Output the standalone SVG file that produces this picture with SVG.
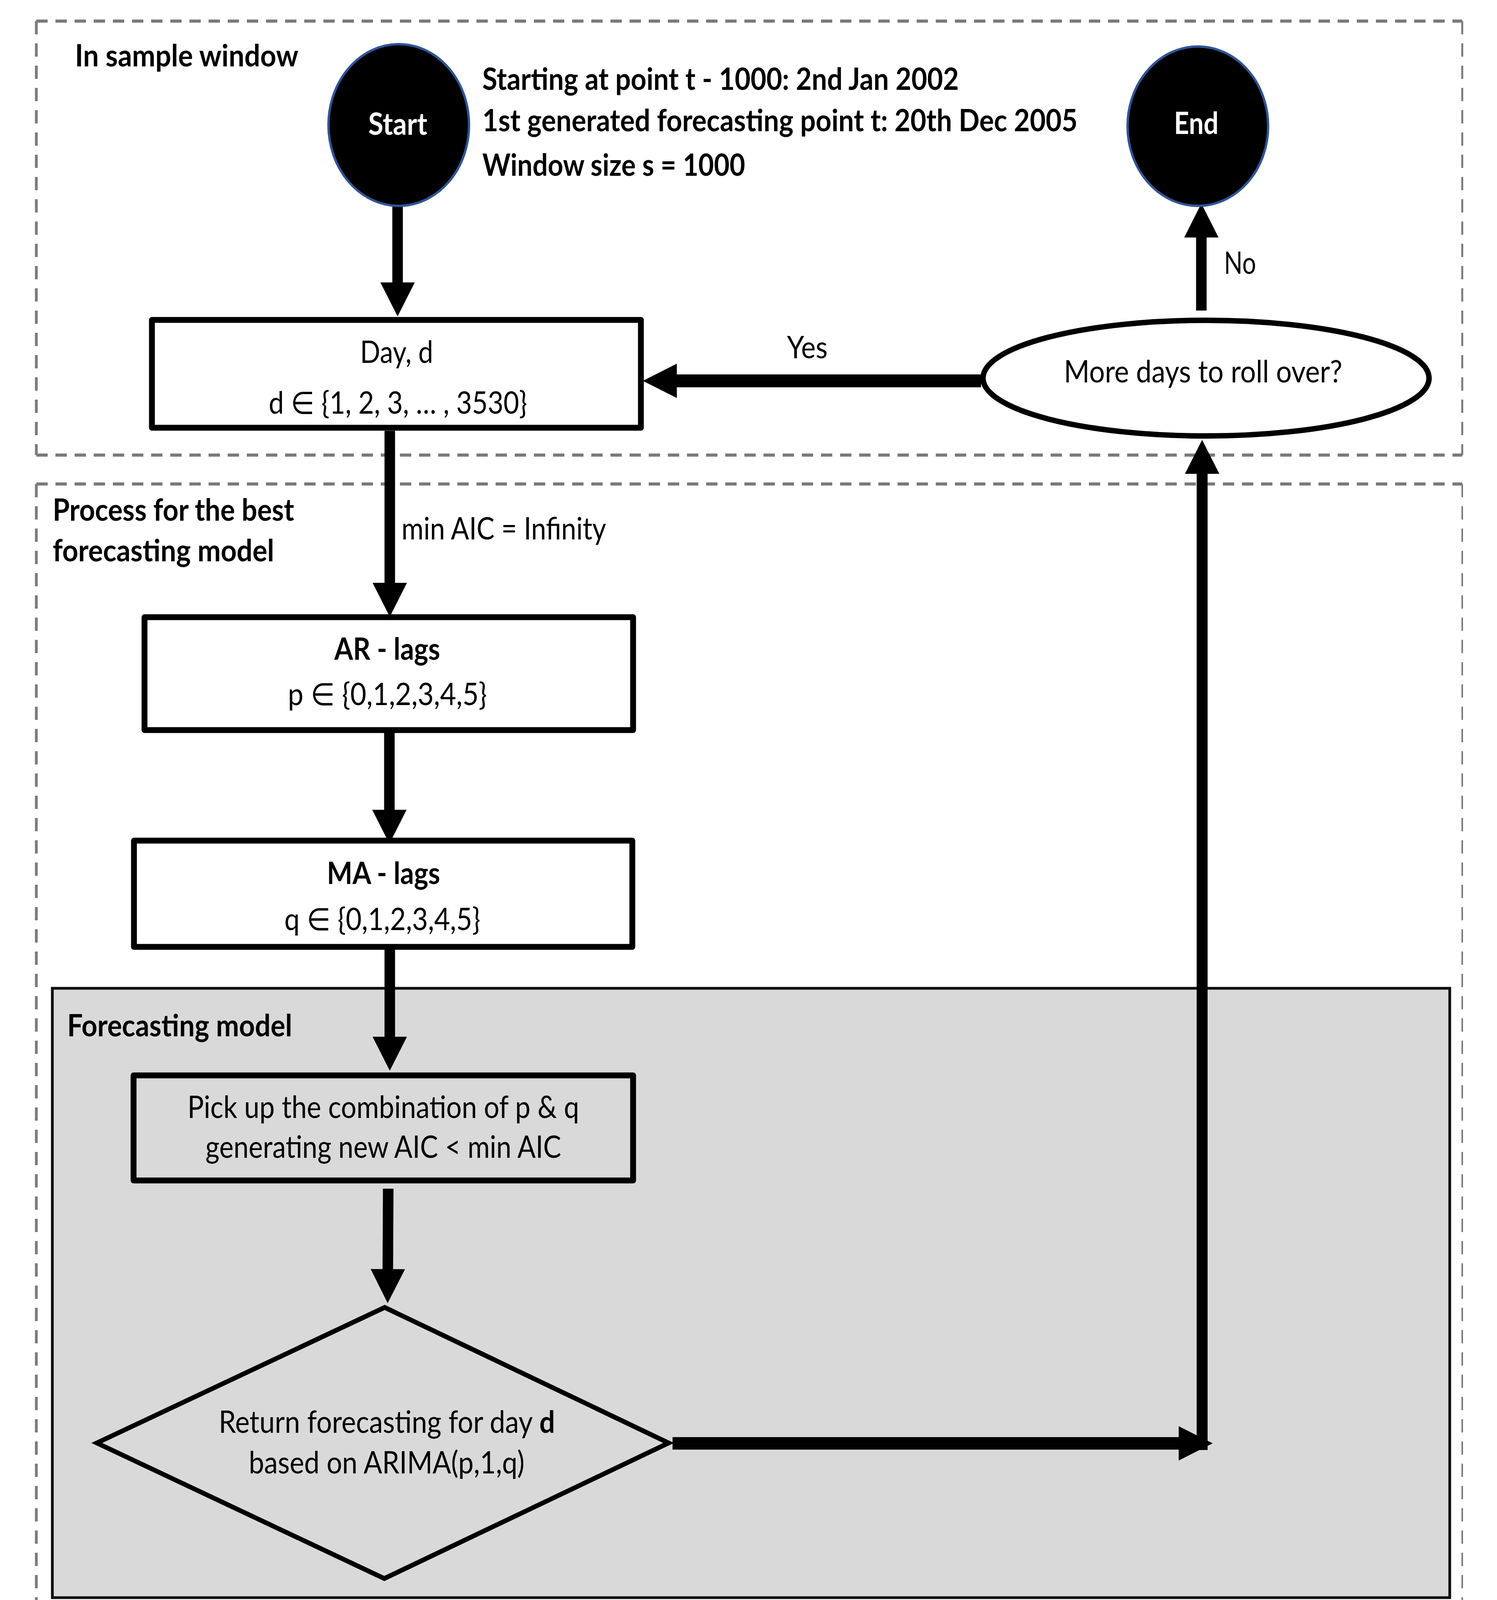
<svg xmlns="http://www.w3.org/2000/svg" width="3833" height="4222" viewBox="0 0 3833 4222">
<defs>
<style>
text{font-family:Lato,"Open Sans","DejaVu Sans",sans-serif;font-size:79px;fill:#000}
.b{font-weight:bold}
.w{fill:#fff;font-weight:bold}
.dh{fill:none;stroke:#7a7a7a;stroke-dasharray:29 20}
.dv{fill:none;stroke:#7a7a7a;stroke-dasharray:34 23}
.box{fill:#fff;stroke:#000;stroke-width:15;stroke-linejoin:round}
.term{fill:#000;stroke:#2f5597;stroke-width:6}
.con{fill:none;stroke:#000;stroke-linecap:butt}
</style>
<marker id="ah" markerUnits="userSpaceOnUse" markerWidth="100" markerHeight="100" viewBox="0 -50 100 100" refX="0" refY="0" orient="auto" overflow="visible">
<path d="M0,-44 L87,0 L0,44 z" fill="#000"/>
</marker>
</defs>
<rect width="3833" height="4222" fill="#fff"/>

<g id="frames">
<line class="dh" x1="93" y1="54" x2="3744" y2="54" stroke-width="8"/>
<line class="dh" x1="93" y1="1165" x2="3744" y2="1165" stroke-width="8"/>
<line class="dv" x1="93" y1="54" x2="93" y2="1165" stroke-width="7"/>
<line class="dv" x1="3744" y1="54" x2="3744" y2="1165" stroke-width="5"/>
<line class="dh" x1="93" y1="1239" x2="3744" y2="1239" stroke-width="8"/>
<line class="dh" x1="93" y1="4162" x2="3744" y2="4162" stroke-width="4"/>
<line class="dv" x1="93" y1="1239" x2="93" y2="4162" stroke-width="7"/>
<line class="dv" x1="3744" y1="1239" x2="3744" y2="4162" stroke-width="4"/>
<rect x="134" y="2530" width="3578" height="1560" fill="#d9d9d9" stroke="#0d0d0d" stroke-width="7"/>
<text class="b" x="192" y="170" textLength="572" lengthAdjust="spacingAndGlyphs">In sample window</text>
<text class="b" x="135" y="1333" textLength="618" lengthAdjust="spacingAndGlyphs">Process for the best</text>
<text class="b" x="135" y="1437" textLength="567" lengthAdjust="spacingAndGlyphs">forecasting model</text>
<text class="b" x="172" y="2653" textLength="576" lengthAdjust="spacingAndGlyphs">Forecasting model</text>
</g>

<g id="note">
<text class="b" x="1235" y="230" textLength="1220" lengthAdjust="spacingAndGlyphs">Starting at point t - 1000: 2nd Jan 2002</text>
<text class="b" x="1235" y="336" textLength="1524" lengthAdjust="spacingAndGlyphs">1st generated forecasting point t: 20th Dec 2005</text>
<text class="b" x="1235" y="450" textLength="673" lengthAdjust="spacingAndGlyphs">Window size s = 1000</text>
</g>

<g id="connectors">
<line class="con" x1="1018" y1="527" x2="1018" y2="723" stroke-width="27" marker-end="url(#ah)"/>
<line class="con" x1="998" y1="1103" x2="998" y2="1492" stroke-width="27" marker-end="url(#ah)"/>
<line class="con" x1="997" y1="1876" x2="997" y2="2073" stroke-width="27" marker-end="url(#ah)"/>
<line class="con" x1="998" y1="2431" x2="998" y2="2654" stroke-width="27" marker-end="url(#ah)"/>
<line class="con" x1="994" y1="3043" x2="993" y2="3249" stroke-width="27" marker-end="url(#ah)"/>
<line class="con" x1="1722" y1="3695" x2="3018" y2="3695" stroke-width="32" marker-end="url(#ah)"/>
<line class="con" x1="3078" y1="3712" x2="3078" y2="1213" stroke-width="28" marker-end="url(#ah)"/>
<line class="con" x1="3076" y1="795" x2="3076" y2="608" stroke-width="27" marker-end="url(#ah)"/>
<line class="con" x1="2512" y1="975" x2="1733" y2="975" stroke-width="33" marker-end="url(#ah)"/>
<text x="1028" y="1381" textLength="524" lengthAdjust="spacingAndGlyphs">min AIC = Infinity</text>
<text x="2015" y="917" textLength="104" lengthAdjust="spacingAndGlyphs">Yes</text>
<text x="3134" y="701" textLength="82" lengthAdjust="spacingAndGlyphs">No</text>
</g>

<g id="start">
<ellipse class="term" cx="1021" cy="320" rx="180" ry="207"/>
<text class="w" x="943" y="345" textLength="151" lengthAdjust="spacingAndGlyphs">Start</text>
</g>

<g id="end">
<ellipse class="term" cx="3067" cy="323" rx="180" ry="204"/>
<text class="w" x="3006" y="343" textLength="114" lengthAdjust="spacingAndGlyphs">End</text>
</g>

<g id="day">
<rect class="box" x="389" y="819" width="1252" height="276" stroke-width="16"/>
<text x="922" y="929" textLength="187" lengthAdjust="spacingAndGlyphs">Day, d</text>
<text x="688" y="1059" textLength="662" lengthAdjust="spacingAndGlyphs">d ∈ {1, 2, 3, … , 3530}</text>
</g>

<g id="more-days">
<ellipse cx="3088" cy="968" rx="571" ry="148" fill="#fff" stroke="#000" stroke-width="14"/>
<text x="2724" y="979" textLength="713" lengthAdjust="spacingAndGlyphs">More days to roll over?</text>
</g>

<g id="ar-lags">
<rect class="box" x="370" y="1580" width="1251" height="289" stroke-width="14"/>
<text class="b" x="856" y="1689" textLength="271" lengthAdjust="spacingAndGlyphs">AR - lags</text>
<text x="737" y="1805" textLength="510" lengthAdjust="spacingAndGlyphs">p ∈  {0,1,2,3,4,5}</text>
</g>

<g id="ma-lags">
<rect class="box" x="343" y="2152" width="1276" height="272" stroke-width="14"/>
<text class="b" x="837" y="2263" textLength="290" lengthAdjust="spacingAndGlyphs">MA - lags</text>
<text x="728" y="2381" textLength="502" lengthAdjust="spacingAndGlyphs">q ∈ {0,1,2,3,4,5}</text>
</g>

<g id="pick">
<rect class="box" x="342" y="2753" width="1279" height="269" stroke-width="14" style="fill:#d9d9d9"/>
<text x="480" y="2862" textLength="1003" lengthAdjust="spacingAndGlyphs">Pick up the combination of p &amp; q</text>
<text x="526" y="2964" textLength="911" lengthAdjust="spacingAndGlyphs">generating new AIC &lt; min AIC</text>
</g>

<g id="return">
<polygon points="985,3347 1712,3694 984,4041 248,3694" fill="#d9d9d9" stroke="#000" stroke-width="12" stroke-linejoin="miter"/>
<text x="560" y="3668" textLength="804" lengthAdjust="spacingAndGlyphs">Return forecasting for day</text>
<text class="b" x="1381" y="3668" textLength="40" lengthAdjust="spacingAndGlyphs">d</text>
<text x="637" y="3772" textLength="706" lengthAdjust="spacingAndGlyphs">based on ARIMA(p,1,q)</text>
</g>
</svg>
